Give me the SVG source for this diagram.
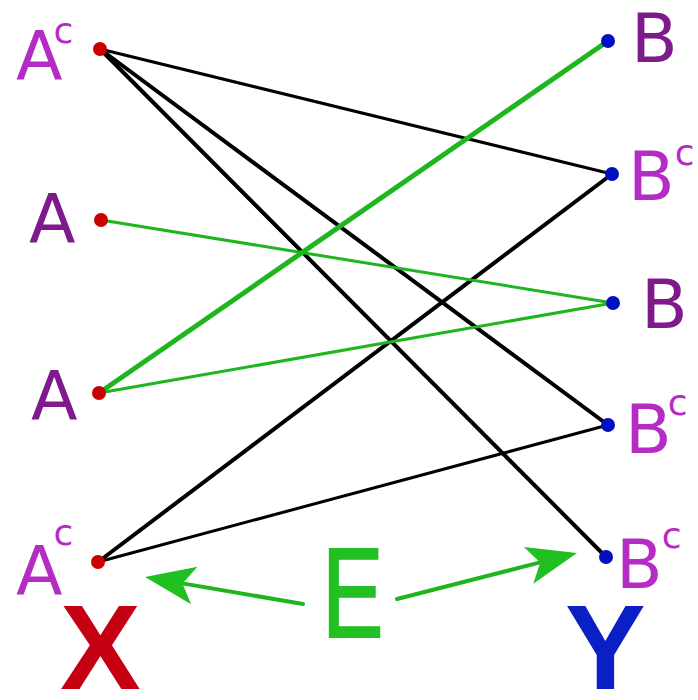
<svg xmlns="http://www.w3.org/2000/svg" width="698" height="700" viewBox="0 0 698 700">
<style>
.lbl{font-family:"DejaVu Sans","Liberation Sans",sans-serif;font-size:68px}
.sup{font-size:36px}
.pa{fill:#7e1a8c}
.ma{fill:#b42cc4}
.blk{stroke:#000;fill:none;stroke-linecap:round}
.grn{stroke:#1fb51f;fill:none;stroke-linecap:round}
.rd{fill:#cc0000}
.bl{fill:#0010c0}
.big{font-family:"Liberation Sans",Arial,sans-serif;font-weight:bold;font-size:121px}
</style>
<defs>
<marker id="ah" markerUnits="userSpaceOnUse" markerWidth="60" markerHeight="50" viewBox="0 -25 60 50" refX="12" refY="0" orient="auto">
<path d="M50,0 L0,-19 L12,0 L0,19 Z" fill="#1fc01f"/>
</marker>
</defs>
<rect width="698" height="700" fill="#fff"/>
<g id="connectors">
<line class="blk" x1="100" y1="49" x2="612" y2="174" stroke-width="3"/>
<line class="blk" x1="100" y1="49" x2="608" y2="425" stroke-width="4"/>
<line class="blk" x1="100" y1="49" x2="606" y2="557" stroke-width="4"/>
<line class="blk" x1="98" y1="562" x2="612" y2="174" stroke-width="4"/>
<line class="blk" x1="98" y1="562" x2="608" y2="425" stroke-width="3"/>
<line class="grn" x1="99" y1="393" x2="608" y2="41" stroke-width="5"/>
<line class="grn" x1="101" y1="220" x2="613" y2="303" stroke-width="3"/>
<line class="grn" x1="99" y1="393" x2="613" y2="303" stroke-width="3"/>
</g>
<g id="X-Ac-top">
<circle class="rd" cx="100" cy="49" r="7"/>
<text class="lbl ma" x="16" y="80">A<tspan class="sup" dx="-9" dy="-37">c</tspan></text>
</g>
<g id="X-A-1">
<circle class="rd" cx="101" cy="220" r="7"/>
<text class="lbl pa" x="29" y="243">A</text>
</g>
<g id="X-A-2">
<circle class="rd" cx="99" cy="393" r="7"/>
<text class="lbl pa" x="31" y="420">A</text>
</g>
<g id="X-Ac-bottom">
<circle class="rd" cx="98" cy="562" r="7"/>
<text class="lbl ma" x="16" y="595">A<tspan class="sup" dx="-9" dy="-50">c</tspan></text>
</g>
<g id="Y-B-1">
<circle class="bl" cx="608" cy="41" r="7"/>
<text class="lbl pa" x="631" y="62">B</text>
</g>
<g id="Y-Bc-1">
<circle class="bl" cx="612" cy="174" r="7"/>
<text class="lbl ma" x="628" y="200">B<tspan class="sup" dx="0" dy="-35">c</tspan></text>
</g>
<g id="Y-B-2">
<circle class="bl" cx="613" cy="303" r="7"/>
<text class="lbl pa" x="641" y="328">B</text>
</g>
<g id="Y-Bc-2">
<circle class="bl" cx="608" cy="425" r="7"/>
<text class="lbl ma" x="625" y="453">B<tspan class="sup" dx="-4" dy="-38">c</tspan></text>
</g>
<g id="Y-Bc-3">
<circle class="bl" cx="606" cy="557" r="7"/>
<text class="lbl ma" x="616" y="588">B<tspan class="sup" dx="-1" dy="-40">c</tspan></text>
</g>
<g id="E-label">
<line class="grn" x1="303" y1="604" x2="182.5" y2="583.4" stroke-width="4" stroke="#1fc01f" marker-end="url(#ah)"/>
<line class="grn" x1="397" y1="599" x2="540.2" y2="562.4" stroke-width="4" stroke="#1fc01f" marker-end="url(#ah)"/>
<text transform="translate(322,637) scale(0.72,1)" font-family="Liberation Sans,Arial,sans-serif" font-size="128" fill="#22c022" stroke="#22c022" stroke-width="2">E</text>
</g>
<g id="X-set">
<text class="big" x="60" y="689" fill="#c40012">X</text>
</g>
<g id="Y-set">
<text class="big" x="565" y="689" fill="#0a20c4">Y</text>
</g>
</svg>
